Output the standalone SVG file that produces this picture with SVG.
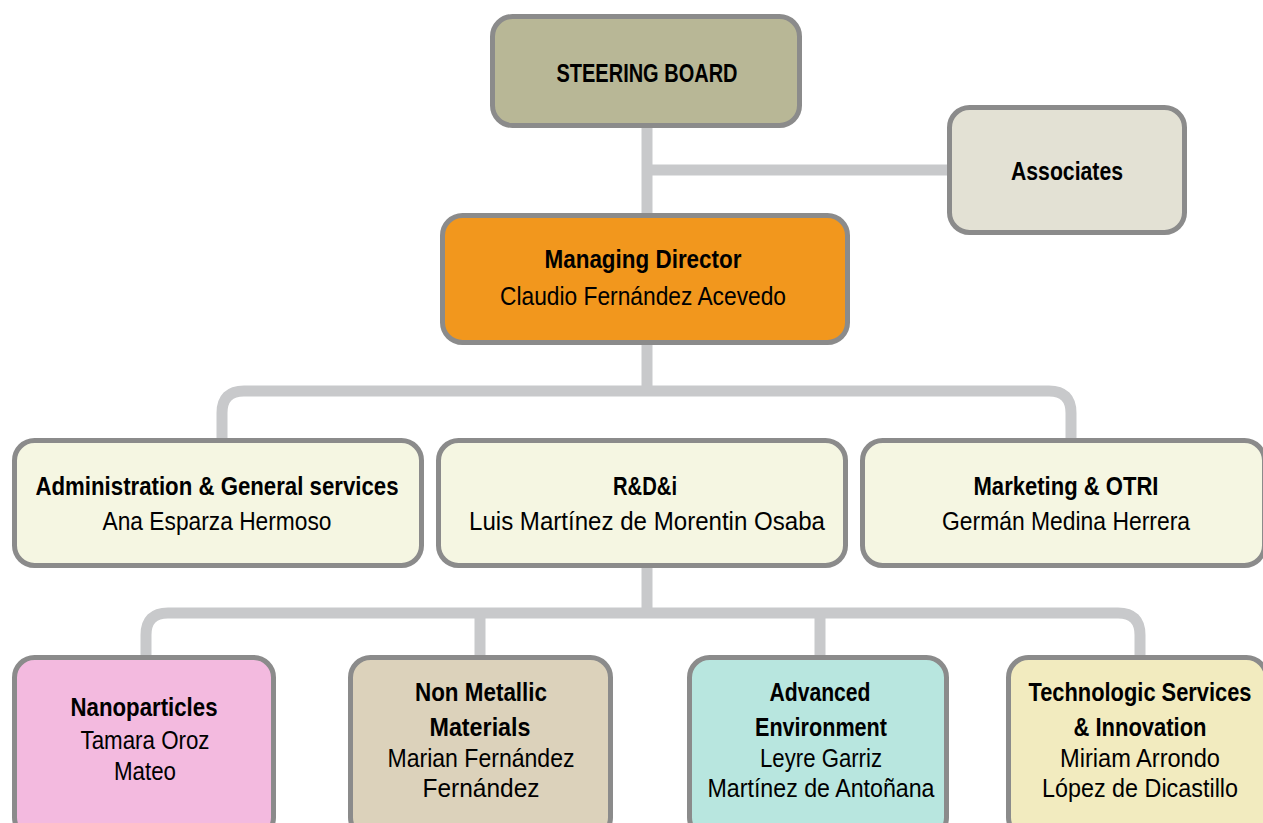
<svg xmlns="http://www.w3.org/2000/svg" width="1263" height="823" viewBox="0 0 1263 823">
<style>
.c{fill:none;stroke:#c8c9cb;stroke-width:11}
.b{stroke:#8b8b8b;stroke-width:5}
text{font-family:"Liberation Sans",Arial,sans-serif;font-size:25px;fill:#000;text-anchor:middle}
.t{font-weight:bold}
</style>
<rect width="1263" height="823" fill="#fff"/>
<g id="connectors">
<path class="c" d="M647 128V213M647 170H947"/>
<path class="c" d="M647 345V391M222 438V413Q222 391 244 391H1049Q1071 391 1071 413V438"/>
<path class="c" d="M647 568V613M146 655V635Q146 613 168 613H1118Q1140 613 1140 635V655M480 613V655M820 613V655"/>
</g>
<g id="steering-board">
<rect class="b" x="492.5" y="16.5" width="307" height="109" rx="20" fill="#b8b796"/>
<text class="t" x="647" y="82" style="font-size:26px" textLength="181" lengthAdjust="spacingAndGlyphs">STEERING BOARD</text>
</g>
<g id="associates">
<rect class="b" x="949.5" y="107.5" width="235" height="125" rx="20" fill="#e3e1d4"/>
<text class="t" x="1067" y="180" textLength="112" lengthAdjust="spacingAndGlyphs">Associates</text>
</g>
<g id="managing-director">
<rect class="b" x="442.5" y="215.5" width="405" height="127" rx="20" fill="#f2971d"/>
<text class="t" x="643" y="268" textLength="197" lengthAdjust="spacingAndGlyphs">Managing Director</text>
<text x="643" y="305" textLength="286" lengthAdjust="spacingAndGlyphs">Claudio Fernández Acevedo</text>
</g>
<g id="administration">
<rect class="b" x="14.5" y="440.5" width="407" height="125" rx="20" fill="#f5f6e2"/>
<text class="t" x="217" y="495" textLength="363" lengthAdjust="spacingAndGlyphs">Administration &amp; General services</text>
<text x="217" y="530" textLength="229" lengthAdjust="spacingAndGlyphs">Ana Esparza Hermoso</text>
</g>
<g id="rdi">
<rect class="b" x="438.5" y="440.5" width="407" height="125" rx="20" fill="#f5f6e2"/>
<text class="t" x="645" y="495" textLength="64" lengthAdjust="spacingAndGlyphs">R&amp;D&amp;i</text>
<text x="647" y="530" textLength="356" lengthAdjust="spacingAndGlyphs">Luis Martínez de Morentin Osaba</text>
</g>
<g id="marketing">
<rect class="b" x="862.5" y="440.5" width="402" height="125" rx="20" fill="#f5f6e2"/>
<text class="t" x="1066" y="495" textLength="185" lengthAdjust="spacingAndGlyphs">Marketing &amp; OTRI</text>
<text x="1066" y="530" textLength="248" lengthAdjust="spacingAndGlyphs">Germán Medina Herrera</text>
</g>
<g id="nanoparticles">
<rect class="b" x="14.5" y="657.5" width="259" height="180" rx="20" fill="#f3badf"/>
<text class="t" x="144" y="716" textLength="147" lengthAdjust="spacingAndGlyphs">Nanoparticles</text>
<text x="145" y="749" textLength="129" lengthAdjust="spacingAndGlyphs">Tamara Oroz</text>
<text x="145" y="780" textLength="62" lengthAdjust="spacingAndGlyphs">Mateo</text>
</g>
<g id="non-metallic">
<rect class="b" x="350.5" y="657.5" width="260" height="180" rx="20" fill="#dcd2bb"/>
<text class="t" x="481" y="701" textLength="132" lengthAdjust="spacingAndGlyphs">Non Metallic</text>
<text class="t" x="480" y="736" textLength="101" lengthAdjust="spacingAndGlyphs">Materials</text>
<text x="481" y="767" textLength="187" lengthAdjust="spacingAndGlyphs">Marian Fernández</text>
<text x="481" y="797" textLength="117" lengthAdjust="spacingAndGlyphs">Fernández</text>
</g>
<g id="advanced-environment">
<rect class="b" x="689.5" y="657.5" width="257" height="180" rx="20" fill="#b8e6df"/>
<text class="t" x="820" y="701" textLength="101" lengthAdjust="spacingAndGlyphs">Advanced</text>
<text class="t" x="821" y="736" textLength="132" lengthAdjust="spacingAndGlyphs">Environment</text>
<text x="821" y="767" textLength="122" lengthAdjust="spacingAndGlyphs">Leyre Garriz</text>
<text x="821" y="797" textLength="227" lengthAdjust="spacingAndGlyphs">Martínez de Antoñana</text>
</g>
<g id="technologic-services">
<rect class="b" x="1008.5" y="657.5" width="258" height="180" rx="20" fill="#f2ebbf"/>
<text class="t" x="1140" y="701" textLength="223" lengthAdjust="spacingAndGlyphs">Technologic Services</text>
<text class="t" x="1140" y="736" textLength="133" lengthAdjust="spacingAndGlyphs">&amp; Innovation</text>
<text x="1140" y="767" textLength="160" lengthAdjust="spacingAndGlyphs">Miriam Arrondo</text>
<text x="1140" y="797" textLength="196" lengthAdjust="spacingAndGlyphs">López de Dicastillo</text>
</g>
</svg>
